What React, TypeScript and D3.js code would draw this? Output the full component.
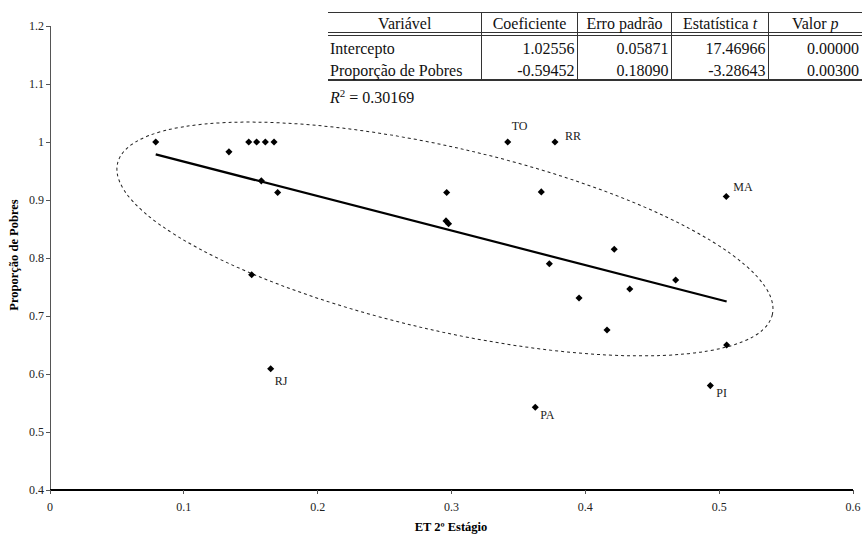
import React from "react";
import * as d3 from "d3";

// ET 2º estágio (eixo x) e proporção de pobres (eixo y), um ponto por UF
const estagio2 = [
  0.079, 0.1337, 0.1485, 0.1544, 0.1609, 0.1674, 0.1579, 0.1701, 0.1507, 0.1649,
  0.2964, 0.2959, 0.2978, 0.342, 0.3773, 0.3671, 0.3731, 0.3953, 0.4216, 0.4332,
  0.4162, 0.4675, 0.5053, 0.5056, 0.4934, 0.3626,
];
const pobres = [
  1.0, 0.983, 1.0, 1.0, 1.0, 1.0, 0.933, 0.913, 0.771, 0.609,
  0.913, 0.864, 0.859, 1.0, 1.0, 0.914, 0.79, 0.731, 0.815, 0.7466,
  0.676, 0.762, 0.906, 0.65, 0.58, 0.5426,
];
const rotulos = [
  "", "", "", "", "", "", "", "", "", "RJ",
  "", "", "", "TO", "RR", "", "", "", "", "",
  "", "", "MA", "", "PI", "PA",
];

// tabela da regressão
const cabecalho = ["Variável", "Coeficiente", "Erro padrão", "Estatística t", "Valor p"];
const variaveis = ["Intercepto", "Proporção de Pobres"];
const coeficientes = ["1.02556", "-0.59452"];
const errosPadrao = ["0.05871", "0.18090"];
const estatT = ["17.46966", "-3.28643"];
const valoresP = ["0.00000", "0.00300"];
const r2 = "0.30169";
const intercepto = 1.02556;
const inclinacao = -0.59452;

// centro da elipse tracejada (em unidades dos dados)
const elipseCentro = [0.2951, 0.8328];

const W = 865;
const H = 535;
const left = 50;
const right = 853;
const top = 26;
const bottom = 490;

const labelOffset: Record<string, [number, number]> = {
  TO: [4, -12],
  RR: [10, -2],
  MA: [7, -6],
  RJ: [4, 16],
  PA: [5, 12],
  PI: [6, 11],
};

const serif = "'Liberation Serif', 'Times New Roman', serif";

export default function App() {
  const x = d3.scaleLinear().domain([0, 0.6]).range([left, right]);
  const y = d3.scaleLinear().domain([0.4, 1.2]).range([bottom, top]);

  const diamond = d3.symbol().type(d3.symbolDiamond2).size(32)();

  const xMin = d3.min(estagio2)!;
  const xMax = d3.max(estagio2)!;
  const linha = d3.line<number>()
    .x(d => x(d))
    .y(d => y(intercepto + inclinacao * d));

  const cols = [328, 481.5, 577.5, 671.5, 768.5, 862];
  const linhasTabela = variaveis.map((v, i) => [v, coeficientes[i], errosPadrao[i], estatT[i], valoresP[i]]);

  return (
    <svg width={W} height={H} style={{ position: "absolute", left: 0, top: 0, background: "#fff" }}
      fontFamily={serif}>
      {/* eixos */}
      <g shapeRendering="crispEdges">
        <line x1={left} x2={left} y1={top} y2={bottom} stroke="#555" />
        <line x1={left} x2={right} y1={bottom} y2={bottom} stroke="#000" strokeWidth={1.3} />
        {y.ticks(8).map(t => (
          <g key={"y" + t}>
            <line x1={left - 4} x2={left} y1={y(t)} y2={y(t)} stroke="#555" />
            <text x={left - 6} y={y(t)} dy="0.35em" textAnchor="end" fontSize={12} fill="#222">
              {String(t)}
            </text>
          </g>
        ))}
        {x.ticks(6).map(t => (
          <g key={"x" + t}>
            <line x1={x(t)} x2={x(t)} y1={bottom} y2={bottom + 4} stroke="#555" />
            <text x={x(t)} y={bottom + 21} textAnchor="middle" fontSize={12} fill="#222">
              {String(t)}
            </text>
          </g>
        ))}
      </g>
      <text x={451} y={531} textAnchor="middle" fontSize={12.5} fontWeight="bold">
        ET 2º Estágio
      </text>
      <text transform={`translate(18,255) rotate(-90)`} textAnchor="middle"
        fontSize={12.5} fontWeight="bold">
        Proporção de Pobres
      </text>

      {/* elipse */}
      <ellipse cx={0} cy={0} rx={336} ry={91.5}
        transform={`translate(${x(elipseCentro[0])},${y(elipseCentro[1])}) rotate(13)`}
        fill="none" stroke="#222" strokeWidth={1} strokeDasharray="3,3" />

      {/* reta de regressão */}
      <path d={linha([xMin, xMax]) ?? ""} stroke="#000" strokeWidth={2.2} fill="none" />

      {/* pontos */}
      {estagio2.map((v, i) => (
        <path key={i} d={diamond ?? ""} transform={`translate(${x(v)},${y(pobres[i])})`} fill="#000" />
      ))}
      {estagio2.map((v, i) => {
        const r = rotulos[i];
        if (!r) return null;
        const [dx, dy] = labelOffset[r];
        return (
          <text key={"l" + i} x={x(v) + dx} y={y(pobres[i]) + dy} fontSize={12} fill="#222">
            {r}
          </text>
        );
      })}

      {/* tabela */}
      <g shapeRendering="crispEdges" stroke="#333">
        <line x1={cols[0]} x2={cols[5]} y1={12} y2={12} />
        <line x1={cols[0]} x2={cols[5]} y1={32} y2={32} />
        <line x1={cols[0]} x2={cols[5]} y1={35} y2={35} />
        <line x1={cols[0]} x2={cols[5]} y1={80} y2={80} strokeWidth={1.5} />
        {cols.slice(1, 5).map(c => (
          <line key={c} x1={c} x2={c} y1={12} y2={80} />
        ))}
      </g>
      {cabecalho.map((h, j) => {
        const cx = (cols[j] + cols[j + 1]) / 2;
        const parts = h.split(" ");
        const last = parts[parts.length - 1];
        const italic = last === "t" || last === "p";
        return (
          <text key={h} x={cx} y={28.5} textAnchor="middle" fontSize={16} fill="#111">
            {italic ? (
              <>
                {parts.slice(0, -1).join(" ") + " "}
                <tspan fontStyle="italic">{last}</tspan>
              </>
            ) : h}
          </text>
        );
      })}
      {linhasTabela.map((row, i) => (
        <g key={i}>
          {row.map((c, j) => (
            <text key={j} x={j === 0 ? cols[0] + 2 : cols[j + 1] - 3} y={53.5 + i * 22.5}
              textAnchor={j === 0 ? "start" : "end"} fontSize={16} fill="#111">
              {c}
            </text>
          ))}
        </g>
      ))}
      <text x={330} y={103} fontSize={16} fill="#111">
        <tspan fontStyle="italic">R</tspan>
        <tspan fontSize={11} dy={-6}>2</tspan>
        <tspan dy={6}>{" = " + r2}</tspan>
      </text>
    </svg>
  );
}
